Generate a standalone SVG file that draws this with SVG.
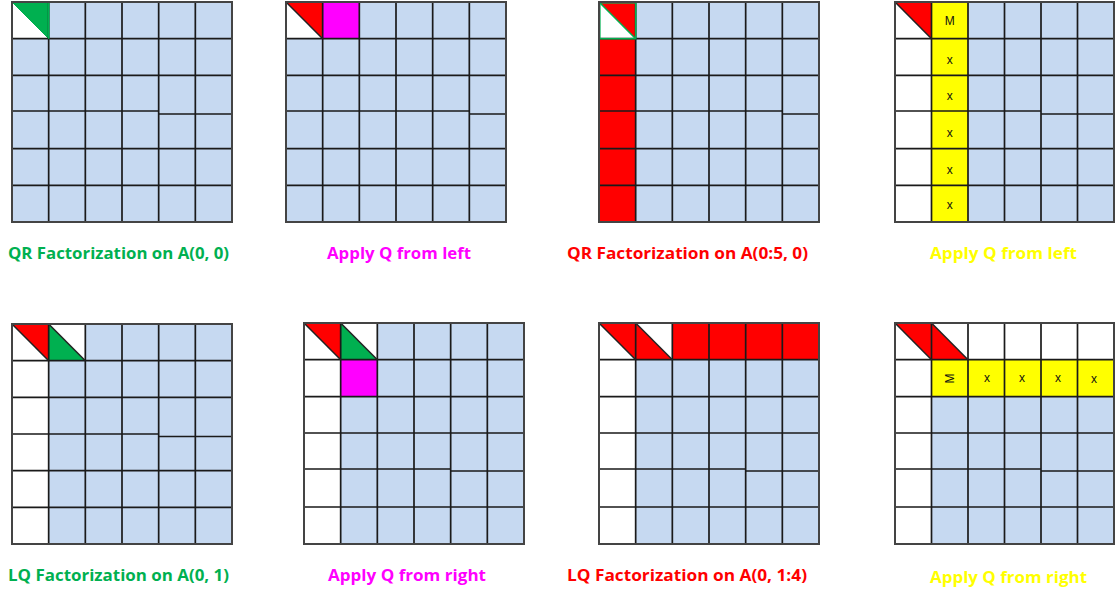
<svg xmlns="http://www.w3.org/2000/svg" width="1115" height="596" viewBox="0 0 1115 596">
<style>
.bl{fill:#C6D9F1}.w{fill:#fff}.r{fill:#f00}.g{fill:#00B050}.m{fill:#f0f}.y{fill:#ff0}
.grid{stroke:#1a1a1a;stroke-width:1.7;fill:none}
.frame{stroke:#444;stroke-width:2;fill:none}
.diag{stroke:#222;stroke-width:1.5}
.lbl{font-family:"Open Sans","Liberation Sans",sans-serif;font-weight:bold;font-size:16px}
.cell{font-family:"Liberation Sans",Arial,sans-serif;font-size:12px;fill:#111;text-anchor:middle}
</style>
<rect width="1115" height="596" fill="#fff"/>

<g id="p1">
<g transform="translate(12,2)">
<rect class="bl" width="220" height="220"/>
<rect class="w" width="36.67" height="36.67"/>
<polygon class="g" points="0,0 36.67,0 36.67,36.67" stroke="#00B050" stroke-width="1"/>
<path class="grid" d="M36.67 0V220M73.33 0V220M110 0V220M146.67 0V220M183.33 0V220M0 36.67H220M0 73.33H220M0 109H146.67V112H220M0 146.67H220M0 183.33H220"/>
<path d="M0 0H36.67V36.67" stroke="#00B050" stroke-width="1.6" fill="none"/>
<rect class="frame" width="220" height="220"/>
</g>
<text class="lbl" x="8" y="259" fill="#00B050" textLength="221" lengthAdjust="spacingAndGlyphs">QR Factorization on A(0, 0)</text>
</g>

<g id="p2">
<g transform="translate(286,2)">
<rect class="bl" width="220" height="220"/>
<rect class="w" width="36.67" height="36.67"/>
<polygon class="r" points="0,0 36.67,0 36.67,36.67"/>
<rect class="m" x="36.67" width="36.67" height="36.67"/>
<path class="grid" d="M36.67 0V220M73.33 0V220M110 0V220M146.67 0V220M183.33 0V220M0 36.67H220M0 73.33H220M0 109H183.33V112H220M0 146.67H220M0 183.33H220"/>
<line class="diag" x1="0" y1="0" x2="36.67" y2="36.67"/>
<rect class="frame" width="220" height="220"/>
</g>
<text class="lbl" x="327" y="259" fill="#f0f" textLength="144" lengthAdjust="spacingAndGlyphs">Apply Q from left</text>
</g>

<g id="p3">
<g transform="translate(599,2)">
<rect class="bl" width="220" height="220"/>
<rect class="w" width="36.67" height="36.67"/>
<polygon class="r" points="0,0 36.67,0 36.67,36.67"/>
<rect class="r" y="36.67" width="36.67" height="183.33"/>
<path class="grid" d="M36.67 0V220M73.33 0V220M110 0V220M146.67 0V220M183.33 0V220M0 36.67H220M0 73.33H220M0 109H183.33V112H220M0 146.67H220M0 183.33H220"/>
<rect x="0.8" y="0.8" width="35.9" height="35.9" fill="none" stroke="#00B050" stroke-width="1.6"/>
<line x1="0" y1="0" x2="36.67" y2="36.67" stroke="#00B050" stroke-width="1.5"/>
<rect class="frame" width="220" height="220"/>
</g>
<text class="lbl" x="567" y="259" fill="#f00" textLength="241" lengthAdjust="spacingAndGlyphs">QR Factorization on A(0:5, 0)</text>
</g>

<g id="p4">
<g transform="translate(895,2)">
<rect class="bl" width="219" height="220"/>
<rect class="w" width="36.5" height="220"/>
<polygon class="r" points="0,0 36.5,0 36.5,36.67"/>
<rect class="y" x="36.5" width="36.5" height="220"/>
<path class="grid" d="M36.5 0V220M73 0V220M109.5 0V220M146 0V220M182.5 0V220M0 36.67H219M0 73.33H219M0 109H146V112H219M0 146.67H219M0 183.33H219"/>
<line class="diag" x1="0" y1="0" x2="36.5" y2="36.67"/>
<rect class="frame" width="219" height="220"/>
<text class="cell" x="54.7" y="23">M</text>
<text class="cell" x="54.7" y="62">x</text>
<text class="cell" x="54.7" y="98">x</text>
<text class="cell" x="54.7" y="135">x</text>
<text class="cell" x="54.7" y="172">x</text>
<text class="cell" x="54.7" y="207">x</text>
</g>
<text class="lbl" x="930" y="259" fill="#ff0" textLength="147" lengthAdjust="spacingAndGlyphs">Apply Q from left</text>
</g>

<g id="p5">
<g transform="translate(12,324)">
<rect class="bl" width="220" height="220"/>
<rect class="w" width="36.67" height="220"/>
<rect class="w" x="36.67" width="36.67" height="36.67"/>
<polygon class="r" points="0,0 36.67,0 36.67,36.67"/>
<polygon class="g" points="36.67,0 36.67,36.67 73.33,36.67"/>
<path class="grid" d="M36.67 0V220M73.33 0V220M110 0V220M146.67 0V220M183.33 0V220M0 36.67H220M0 73.33H220M0 110H146.67V112.5H220M0 146.67H220M0 183.33H220"/>
<line class="diag" x1="0" y1="0" x2="36.67" y2="36.67"/>
<line class="diag" x1="36.67" y1="0" x2="73.33" y2="36.67"/>
<rect class="frame" width="220" height="220"/>
</g>
<text class="lbl" x="8" y="581" fill="#00B050" textLength="221" lengthAdjust="spacingAndGlyphs">LQ Factorization on A(0, 1)</text>
</g>

<g id="p6">
<g transform="translate(304,323)">
<rect class="bl" width="220" height="221"/>
<rect class="w" width="36.67" height="221"/>
<rect class="w" x="36.67" width="36.67" height="36.67"/>
<polygon class="r" points="0,0 36.67,0 36.67,36.67"/>
<polygon class="g" points="36.67,0 36.67,36.67 73.33,36.67"/>
<rect class="m" x="36.67" y="36.67" width="36.67" height="37"/>
<path class="grid" d="M36.67 0V221M73.33 0V221M110 0V221M146.67 0V221M183.33 0V221M0 36.67H220M0 73.67H220M0 110H220M0 146H146.67V148H220M0 184H220"/>
<line class="diag" x1="0" y1="0" x2="36.67" y2="36.67"/>
<line class="diag" x1="36.67" y1="0" x2="73.33" y2="36.67"/>
<rect class="frame" width="220" height="221"/>
</g>
<text class="lbl" x="328" y="581" fill="#f0f" textLength="158" lengthAdjust="spacingAndGlyphs">Apply Q from right</text>
</g>

<g id="p7">
<g transform="translate(599,323)">
<rect class="bl" width="220" height="221"/>
<rect class="w" width="36.67" height="221"/>
<rect class="w" x="36.67" width="36.67" height="36.67"/>
<polygon class="r" points="0,0 36.67,0 36.67,36.67"/>
<polygon class="r" points="36.67,0 36.67,36.67 73.33,36.67"/>
<rect class="r" x="73.33" width="146.67" height="36.67"/>
<path class="grid" d="M36.67 0V221M73.33 0V221M110 0V221M146.67 0V221M183.33 0V221M0 36.67H220M0 73.67H220M0 110H220M0 146H146.67V148H220M0 184H220"/>
<line class="diag" x1="0" y1="0" x2="36.67" y2="36.67"/>
<line class="diag" x1="36.67" y1="0" x2="73.33" y2="36.67"/>
<rect class="frame" width="220" height="221"/>
</g>
<text class="lbl" x="567" y="581" fill="#f00" textLength="240" lengthAdjust="spacingAndGlyphs">LQ Factorization on A(0, 1:4)</text>
</g>

<g id="p8">
<g transform="translate(895,323)">
<rect class="bl" width="219" height="221"/>
<rect class="w" width="36.5" height="221"/>
<rect class="w" width="219" height="36.67"/>
<polygon class="r" points="0,0 36.5,0 36.5,36.67"/>
<polygon class="r" points="36.5,0 36.5,36.67 73,36.67"/>
<rect class="y" x="36.5" y="36.67" width="182.5" height="37"/>
<path class="grid" d="M36.5 0V221M73 0V221M109.5 0V221M146 0V221M182.5 0V221M0 36.67H219M0 73.67H219M0 110H219M0 146H146V148H219M0 184H219"/>
<line class="diag" x1="0" y1="0" x2="36.5" y2="36.67"/>
<line class="diag" x1="36.5" y1="0" x2="73" y2="36.67"/>
<rect class="frame" width="219" height="221"/>
<text class="cell" transform="translate(59,55.5) rotate(-90)">M</text>
<text class="cell" x="92" y="59">x</text>
<text class="cell" x="127" y="59">x</text>
<text class="cell" x="163" y="59">x</text>
<text class="cell" x="199" y="60">x</text>
</g>
<text class="lbl" x="930" y="583" fill="#ff0" textLength="157" lengthAdjust="spacingAndGlyphs">Apply Q from right</text>
</g>
</svg>
